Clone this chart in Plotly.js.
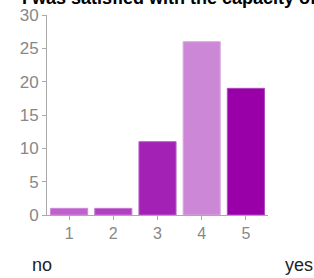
<!DOCTYPE html>
<html><head><meta charset="utf-8">
<script src="https://cdn.plot.ly/plotly-3.0.1.min.js"></script>
<style>html,body{margin:0;padding:0;background:#fff;}#c{width:314px;height:278px;}</style>
</head><body><div id="c"></div>
<script>
var categories = ["1", "2", "3", "4", "5"];
var counts = [1, 1, 11, 26, 19];
var barColors = ["#c060cc", "#b040c0", "#a321b4", "#cc88d6", "#9900a8"];
var lineColors = ["#d088d8", "#c878d4", "#b860c8", "#dcaae2", "#b048c0"];
var yTicks = [0, 5, 10, 15, 20, 25, 30];
var titleText = "I was satisfied with the capacity of the";
var lowLabel = "no";
var highLabel = "yes";

var trace = {
  type: "bar",
  x: categories,
  y: counts,
  marker: {color: barColors, line: {color: lineColors, width: 1}},
  hoverinfo: "none"
};
var layout = {
  width: 314, height: 278,
  margin: {l: 47, r: 46, t: 15, b: 63},
  paper_bgcolor: "#fff", plot_bgcolor: "#fff",
  bargap: 0.16,
  showlegend: false,
  font: {family: "Liberation Sans, Arial, sans-serif"},
  xaxis: {
    type: "category",
    range: [-0.5, 4.5],
    showline: true, linecolor: "#aaaaaa", linewidth: 1,
    ticks: "outside", ticklen: 4, tickcolor: "#aaaaaa",
    tickfont: {size: 16, color: "#888888"},
    showgrid: false, zeroline: false, fixedrange: true
  },
  yaxis: {
    range: [0, 30],
    tickvals: yTicks,
    ticktext: yTicks.map(String),
    showline: true, linecolor: "#aaaaaa", linewidth: 1,
    ticks: "outside", ticklen: 4, tickcolor: "#aaaaaa",
    tickfont: {size: 17, color: "#888888"},
    showgrid: false, zeroline: false, fixedrange: true
  },
  annotations: [
    {text: "<b>" + titleText + "</b>", xref: "paper", yref: "paper",
     x: -0.122, y: 1.083, xanchor: "left", yanchor: "middle",
     showarrow: false, font: {size: 18, color: "#000"}},
    {text: lowLabel, xref: "paper", yref: "paper",
     x: -0.022, y: -0.25, xanchor: "center", yanchor: "middle",
     showarrow: false, font: {size: 18, color: "#222"}},
    {text: highLabel, xref: "paper", yref: "paper",
     x: 1.068, y: -0.25, xanchor: "left", yanchor: "middle",
     showarrow: false, font: {size: 18, color: "#222"}}
  ]
};
Plotly.newPlot("c", [trace], layout, {displayModeBar: false, staticPlot: true});
</script></body></html>
